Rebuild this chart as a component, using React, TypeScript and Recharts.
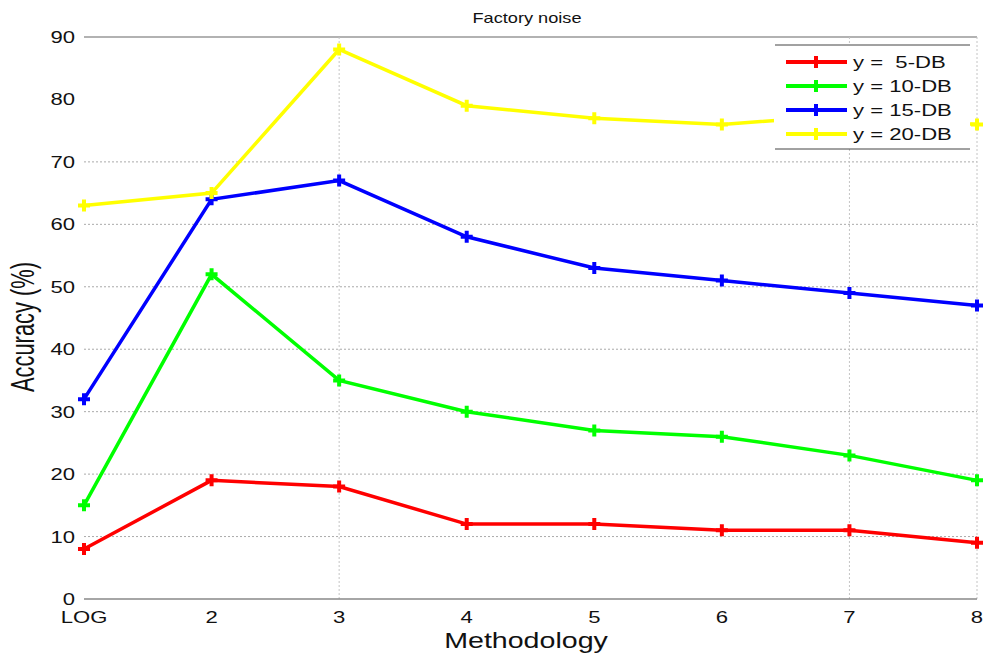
import { LineChart, Line, XAxis, YAxis, ReferenceLine, Label } from "recharts";

const methods = ["LOG", "2", "3", "4", "5", "6", "7", "8"];
const db5 = [8, 19, 18, 12, 12, 11, 11, 9];
const db10 = [15, 52, 35, 30, 27, 26, 23, 19];
const db15 = [32, 64, 67, 58, 53, 51, 49, 47];
const db20 = [63, 65, 88, 79, 77, 76, 77.5, 76];
const yTicks = [0, 10, 20, 30, 40, 50, 60, 70, 80, 90];
const gridLevels = [10, 20, 30, 40, 50, 60, 70];
const vGridAt = ["3", "7", "8"];

const series = [
    { key: "db5", name: "y =  5-DB", color: "#ff0000" },
    { key: "db10", name: "y = 10-DB", color: "#00ff00" },
    { key: "db15", name: "y = 15-DB", color: "#0000ff" },
    { key: "db20", name: "y = 20-DB", color: "#ffff00" },
];

const data = methods.map((m, i) => ({
    method: m,
    db5: db5[i],
    db10: db10[i],
    db15: db15[i],
    db20: db20[i],
}));

const FONT = "'Liberation Sans', Arial, sans-serif";
const SX = 1.3; // the figure's text is wide, stretch glyphs horizontally

// text stretched sideways around its anchor point
function WideText(props: any) {
    const { x, y, anchor = "middle", size = 17, children } = props;
    return (
        <g transform={`translate(${x},${y}) scale(${SX},1)`}>
            <text x={0} y={0} textAnchor={anchor} fontSize={size} fill="#111" fontFamily={FONT} style={{ whiteSpace: "pre" }}>
                {children}
            </text>
        </g>
    );
}

// bold plus marker, like the matlab '+' markers
function PlusDot(props: any) {
    const { cx, cy, stroke } = props;
    if (cx == null || cy == null) return null;
    return (
        <path
            d={`M${cx - 6},${cy} L${cx + 6},${cy} M${cx},${cy - 6} L${cx},${cy + 6}`}
            stroke={stroke}
            strokeWidth={4}
            fill="none"
        />
    );
}

function XTick(props: any) {
    const { x, y, payload } = props;
    return <WideText x={x} y={y + 18} size={17}>{payload.value}</WideText>;
}

function YTick(props: any) {
    const { x, y, payload } = props;
    return <WideText x={x} y={y + 6} anchor="end" size={17}>{payload.value}</WideText>;
}

function LegendBox() {
    return (
        <svg width={200} height={110} style={{ position: "absolute", left: 774, top: 44 }}>
            <rect x={0} y={0} width={196} height={105} fill="#fff" />
            <line x1={1} x2={196} y1={1} y2={1} stroke="#444" />
            <line x1={1} x2={196} y1={105} y2={105} stroke="#444" />
            {series.map((s, i) => {
                const cy = 18 + i * 24;
                return (
                    <g key={s.key}>
                        <line x1={12} x2={73} y1={cy} y2={cy} stroke={s.color} strokeWidth={4} />
                        <PlusDot cx={42} cy={cy} stroke={s.color} />
                        <WideText x={79} y={cy + 6} anchor="start" size={17}>{s.name}</WideText>
                    </g>
                );
            })}
        </svg>
    );
}

export default function App() {
    return (
        <div style={{ position: "absolute", left: 0, top: 0, width: 984, height: 658, background: "#fff" }}>
            <LineChart width={984} height={658} data={data} margin={{ top: 37, right: 7, bottom: 0, left: 0 }}>
                {gridLevels.map((v) => (
                    <ReferenceLine key={v} y={v} stroke="#aaaaaa" strokeDasharray="2 2" />
                ))}
                <ReferenceLine y={90} stroke="#999" strokeWidth={1.5} />
                {vGridAt.map((c) => (
                    <ReferenceLine key={c} x={c} stroke="#c4c4c4" strokeDasharray="2 2" />
                ))}
                <XAxis
                    dataKey="method"
                    height={59}
                    tickLine={false}
                    axisLine={{ stroke: "#888", strokeWidth: 1.5 }}
                    tick={<XTick />}
                    tickMargin={0}
                    interval={0}
                >
                    <Label
                        content={() => <WideText x={526} y={648} size={22}>Methodology</WideText>}
                    />
                </XAxis>
                <YAxis
                    width={84}
                    domain={[0, 90]}
                    ticks={yTicks}
                    tickLine={false}
                    axisLine={false}
                    tick={<YTick />}
                    tickMargin={3}
                >
                    <Label
                        content={() => (
                            <g transform={`translate(34,327) scale(${SX},1) rotate(-90)`}>
                                <text
                                    x={0}
                                    y={0}
                                    textAnchor="middle"
                                    fontSize={25}
                                    fill="#111"
                                    fontFamily={FONT}
                                    textLength={130}
                                    lengthAdjust="spacingAndGlyphs"
                                >
                                    Accuracy (%)
                                </text>
                            </g>
                        )}
                    />
                </YAxis>
                {series.map((s) => (
                    <Line
                        key={s.key}
                        type="linear"
                        dataKey={s.key}
                        name={s.name}
                        stroke={s.color}
                        strokeWidth={3.5}
                        dot={<PlusDot />}
                        activeDot={false}
                        isAnimationActive={false}
                    />
                ))}
            </LineChart>
            <svg width={984} height={40} style={{ position: "absolute", left: 0, top: 0 }}>
                <WideText x={527} y={23} size={14}>Factory noise</WideText>
            </svg>
            <LegendBox />
        </div>
    );
}
